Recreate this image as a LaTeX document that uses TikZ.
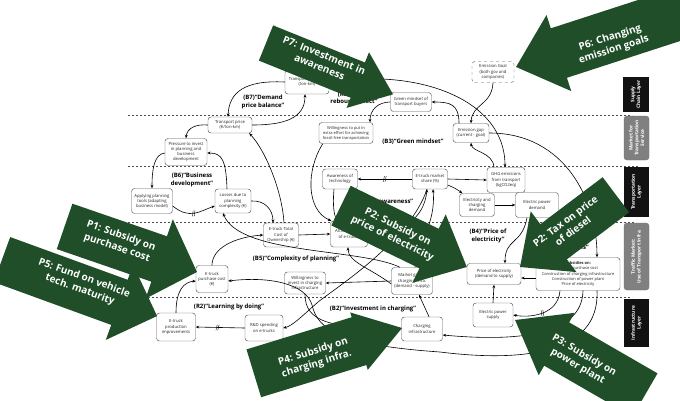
\documentclass[tikz,border=0pt]{standalone}
\usepackage{fontspec}
\setmainfont{Open Sans}
\usetikzlibrary{arrows.meta,decorations.markings}
\definecolor{pgreen}{RGB}{31,78,40}
\definecolor{layerblack}{RGB}{18,18,18}
\definecolor{layergray}{RGB}{128,128,128}
\tikzset{
 box/.style={draw=black!65, rounded corners=3pt, fill=white, line width=0.45pt, align=center, text=black!85, font=\fontsize{4.2}{5.2}\selectfont, inner sep=0.5pt},
 lbl/.style={font=\fontsize{6}{7.6}\selectfont\bfseries, align=center},
 cl/.style={-{Stealth[length=3.4pt,width=2.8pt]}, line width=0.6pt},
 hashmark/.style={postaction={decorate}, decoration={markings, mark=at position #1 with {\draw[line width=0.4pt,-] (-1.2pt,-2.8pt)--(0pt,2.8pt) (0.6pt,-2.8pt)--(1.8pt,2.8pt);}}},
 layerdash/.style={dash pattern=on 2.4pt off 1.6pt, line width=0.5pt, black!70},
 bigtext/.style={text=white, font=\fontsize{10}{12.5}\selectfont\bfseries, align=center},
 layerbox/.style={text=white, font=\fontsize{4.8}{5.8}\selectfont\bfseries, align=center, rotate=90, inner sep=0.5pt},
}
\newcommand{\bigarrow}[7]{%
 \fill[pgreen,shift={(#1,#2)},rotate=#3] (0,-#5) -- (#4-#7,-#5) -- (#4-#7,-#6) -- (#4,0) -- (#4-#7,#6) -- (#4-#7,#5) -- (0,#5) -- cycle;}
\begin{document}
\begin{tikzpicture}[x=1pt,y=-1pt]
\useasboundingbox[fill=white] (0,0) rectangle (680,400);
% layer separators
\coordinate (d1l) at (128,115); \coordinate (d1r) at (632,115);
\coordinate (d2l) at (128,166); \coordinate (d2r) at (638,166);
\coordinate (d3l) at (128,222); \coordinate (d3r) at (634,222);
\coordinate (d4l) at (128,297); \coordinate (d4r) at (632,297);
\draw[layerdash] (d1l) -- (d1r);
\draw[layerdash] (d2l) -- (d2r);
\draw[layerdash] (d3l) -- (d3r);
\draw[layerdash] (d4l) -- (d4r);
% layer labels
\node[layerbox, fill=layerblack, minimum width=35pt, minimum height=26pt] (ly1) at (636,94.5) {Supply\\Chain Layer};
\node[layerbox, fill=layergray, draw=black!55, rounded corners=3pt, minimum width=44pt, minimum height=25pt] (ly2) at (636.5,138) {Market for\\Transportation\\Service};
\node[layerbox, fill=layerblack, minimum width=50pt, minimum height=25pt] (ly3) at (636.5,192) {Transportation\\Layer};
\node[layerbox, fill=layergray, draw=black!55, rounded corners=3pt, minimum width=67pt, minimum height=25pt] (ly4) at (636.5,256.5) {Traffic Market:\\Use of Transport Infra.};
\node[layerbox, fill=layerblack, minimum width=48pt, minimum height=25pt] (ly5) at (636.5,323) {Infrastructure\\Layer};
% nodes
\node[box, minimum width=44pt, minimum height=24pt] (TD) at (307,82) {Transport demand\\(ton-km)};
\node[box, minimum width=41pt, minimum height=19pt] (GM) at (411,102) {Green mindset of\\transport buyers};
\node[box, dashed, minimum width=42pt, minimum height=21pt] (GOAL) at (493,72) {Emission Goal\\(both gov and\\companies)};
\node[box, minimum width=44pt, minimum height=16pt] (TP) at (230,125) {Transport price\\(€/ton-km)};
\node[box, minimum width=42pt, minimum height=27pt] (PI) at (186,152) {Pressure to invest\\in planning and\\business\\development};
\node[box, minimum width=54pt, minimum height=21pt, font=\fontsize{4}{5}\selectfont] (WE) at (346,133) {Willingness to put in\\extra effort for achieving\\fossil-free transportation};
\node[box, minimum width=36pt, minimum height=19pt] (EGAP) at (471,133) {Emission gap\\(current - goal)};
\node[box, minimum width=41pt, minimum height=25pt] (AP) at (152,201) {Applying planning\\tools (adapting\\business model)};
\node[box, minimum width=36pt, minimum height=24pt] (LO) at (233,201) {Losses due to\\planning\\complexity (€)};
\node[box, minimum width=35pt, minimum height=20pt] (AW) at (340,179) {Awareness of\\technology};
\node[box, minimum width=35pt, minimum height=20pt] (MS) at (430,179) {E-truck market\\share (\%)};
\node[box, minimum width=38pt, minimum height=25pt] (GHG) at (506,180) {GHG emissions\\from transport\\(kgCO2eq)};
\node[box, minimum width=35pt, minimum height=23pt] (ECD) at (477,205) {Electricity and\\charging\\demand};
\node[box, minimum width=43pt, minimum height=25pt] (EPD) at (537,205) {Electric power\\demand};
\node[box, minimum width=35pt, minimum height=24pt] (TCO) at (281,235) {E-truck Total\\Cost of\\Ownership (€)};
\node[box, minimum width=37pt, minimum height=26pt] (AT) at (349,234) {Attractiveness\\of e-trucks};
\node[box, minimum width=32pt, minimum height=27pt] (PC) at (212,279) {E-truck\\purchase cost\\(€)};
\node[box, minimum width=41pt, minimum height=22pt] (WI) at (305,283) {Willingness to\\invest in charging\\infrastructure};
\node[box, minimum width=41pt, minimum height=27pt] (MG) at (412,281) {Market gap of\\charging infra.\\(demand - supply)};
\node[box, minimum width=54pt, minimum height=21pt] (PE) at (494,274) {Price of electricity\\(demand to supply)};
\node[box, minimum width=84pt, minimum height=33pt, font=\fontsize{4}{5.3}\selectfont] (SU) at (578,274) {\textbf{Subsidies on:}\\E-truck purchase cost\\Construction of charging infrastructure\\Construction of power plant\\Price of electricity};
\node[box, minimum width=39pt, minimum height=28pt] (PR) at (176,327) {E-truck\\production\\improvements};
\node[box, minimum width=38pt, minimum height=26pt] (RD) at (264,328) {R\&D spending\\on e-trucks};
\node[box, minimum width=41pt, minimum height=24pt] (CI) at (422,329) {Charging\\infrastructure};
\node[box, minimum width=40pt, minimum height=24pt] (EPS) at (493,315) {Electric power\\supply};
% connectors
\draw[cl] (TD.west) .. controls (245,80) and (229,92) .. ([xshift=-2pt]TP.north);
\draw[cl] (TP.east) .. controls (285,125) and (305,118) .. ([xshift=-2pt]TD.south);
\draw[cl] (TP.west) .. controls (196,124) and (187,128) .. (PI.north);
\draw[cl] ([yshift=-1pt]PI.west) .. controls (154,154) and (152,170) .. (AP.north);
\draw[cl,hashmark=0.5] ([yshift=-5pt]AP.east) .. controls (190,220) and (200,211) .. ([yshift=-5pt]LO.west);
\draw[cl] ([xshift=-6pt]LO.north) .. controls (226,160) and (222,153) .. ([yshift=-1pt]PI.east);
\draw[cl] (LO.east) .. controls (265,200) and (273,210) .. ([xshift=-8pt]TCO.north);
\draw[cl] ([xshift=3pt]TCO.north) .. controls (282,190) and (265,150) .. ([xshift=-3pt]TP.south east);
\draw[cl] (PC.north) .. controls (212,248) and (235,237) .. (TCO.west);
\draw[cl] (PR.north) .. controls (176,290) and (184,282) .. ([yshift=-2pt]PC.west);
\draw[cl,hashmark=0.55] (RD.west) -- (PR.east);
\draw[cl] (TCO.east) -- (AT.west);
\draw[cl] ([yshift=-3pt]MG.west) .. controls (370,268) and (348,262) .. ([xshift=-1pt]AT.south);
\draw[cl] ([xshift=-12pt]MG.north) .. controls (360,248) and (240,255) .. ([xshift=-10pt]LO.south);
\draw[cl] (AT.east) .. controls (400,234) and (424,220) .. ([xshift=-3pt]MS.south);
\draw[cl] ([xshift=3pt]MG.north) .. controls (418,240) and (436,225) .. ([xshift=3pt]MS.south);
\draw[cl,hashmark=0.5] (MS.west) -- (AW.east);
\draw[cl] ([xshift=-6pt]AW.south) .. controls (333,200) and (333,212) .. ([xshift=-12pt]AT.north);
\draw[cl] ([xshift=4pt]WE.south west) .. controls (306,170) and (306,210) .. ([xshift=1pt]AT.north west);
\draw[cl] (GM.west) .. controls (378,102) and (370,110) .. ([xshift=24pt]WE.north);
\draw[cl] ([xshift=-12pt]EGAP.north) .. controls (459,104) and (450,102) .. (GM.east);
\draw[cl] (GOAL.south) .. controls (492,105) and (472,104) .. (EGAP.north);
\draw[cl] ([xshift=-12pt]GHG.north) .. controls (493,152) and (472,152) .. (EGAP.south);
\draw[cl] (TD.east) .. controls (420,68) and (505,100) .. ([xshift=-1pt]GHG.north);
\draw[cl] (EGAP.east) .. controls (565,133) and (597,200) .. ([xshift=19pt]SU.north);
\draw[cl] (MS.east) -- (GHG.west);
\draw[cl] ([yshift=-6pt]MS.east) .. controls (455,188) and (458,190) .. ([xshift=3pt]ECD.north west);
\draw[cl] (ECD.east) -- (EPD.west);
\draw[cl] ([xshift=-10pt]EPD.south) .. controls (522,245) and (505,238) .. ([xshift=11pt]PE.north);
\draw[cl] (EPS.north) -- (PE.south);
\draw[cl] ([yshift=-4pt]SU.west) -- ([yshift=-4pt]PE.east);
\draw[cl,hashmark=0.5] ([xshift=-18pt]SU.south) .. controls (558,315) and (530,318) .. (EPS.east);
\draw[cl] ([xshift=5pt]SU.south) .. controls (582,335) and (520,342) .. ([yshift=-6pt]CI.east);
\draw[cl] ([xshift=19pt]SU.south) .. controls (600,355) and (520,362) .. (440,352) .. controls (340,345) and (318,330) .. (312,305) .. controls (306,284) and (270,276) .. ([yshift=-2pt]PC.east);
\draw[cl] (MG.west) -- (WI.east);
\draw[cl] (WI.south) .. controls (305,322) and (330,328) .. (CI.west);
\draw[cl] ([xshift=7pt]CI.north) -- ([xshift=7pt]MG.south);
\draw[cl] ([xshift=-3pt]MS.south) .. controls (410,240) and (340,285) .. (318,302) .. controls (300,318) and (292,326) .. (RD.east);
% loop labels
\node[lbl] (lB7) at (263,102) {(B7)“Demand\\price balance”};
\node[lbl] (lR3) at (354,98) {(R3)“Green\\rebound effect”};
\node[lbl] (lB3) at (413,142) {(B3)“Green mindset”};
\node[lbl] (lB6) at (192,180) {(B6)“Business\\development”};
\node[lbl] (lR1) at (380,202) {(R1)“Tech. awareness”};
\node[lbl] (lB5) at (296,259) {(B5)“Complexity of planning”};
\node[lbl] (lB4) at (488,236) {(B4)“Price of\\electricity”};
\node[lbl] (lB1) at (572,248) {(B1)“Goals”};
\node[lbl] (lR2) at (229,307) {(R2)“Learning by doing”};
\node[lbl] (lB2) at (373,309) {(B2)“Investment in charging”};
% policy arrows
\bigarrow{266}{43}{-22}{137}{19}{30}{38}
\node[bigtext, rotate=-22] (p7) at (322,61) {P7: Investment in\\awareness};
\bigarrow{692}{9.8}{198}{185}{26}{40}{45}
\node[bigtext, rotate=18] (p6) at (612,44) {P6: Changing\\emission goals};
\bigarrow{64.6}{226.4}{-19}{140}{24}{42}{40}
\node[bigtext, rotate=-19] (p1) at (119,242) {P1: Subsidy on\\purchase cost};
\bigarrow{2}{259.6}{-20}{165}{24}{40}{40}
\node[bigtext, rotate=-20] (p5) at (82,284) {P5: Fund on vehicle\\tech. maturity};
\bigarrow{341}{205.6}{-26}{140}{22}{38}{42}
\node[bigtext, rotate=-26] (p2) at (395,233) {P2: Subsidy on\\price of electricity};
\bigarrow{615.9}{194.8}{217}{120}{22}{38}{42}
\node[bigtext, rotate=37] (p2t) at (569,226) {P2: Tax on price\\of diesel};
\bigarrow{645}{395}{150}{150}{25}{36}{48}
\node[bigtext, rotate=-30] (p3) at (581,361) {P3: Subsidy on\\power plant};
\bigarrow{253.8}{373.3}{17}{155}{25}{30}{45}
\node[bigtext, rotate=17] (p4) at (315,358) {P4: Subsidy on\\charging infra.};
\end{tikzpicture}
\end{document}
